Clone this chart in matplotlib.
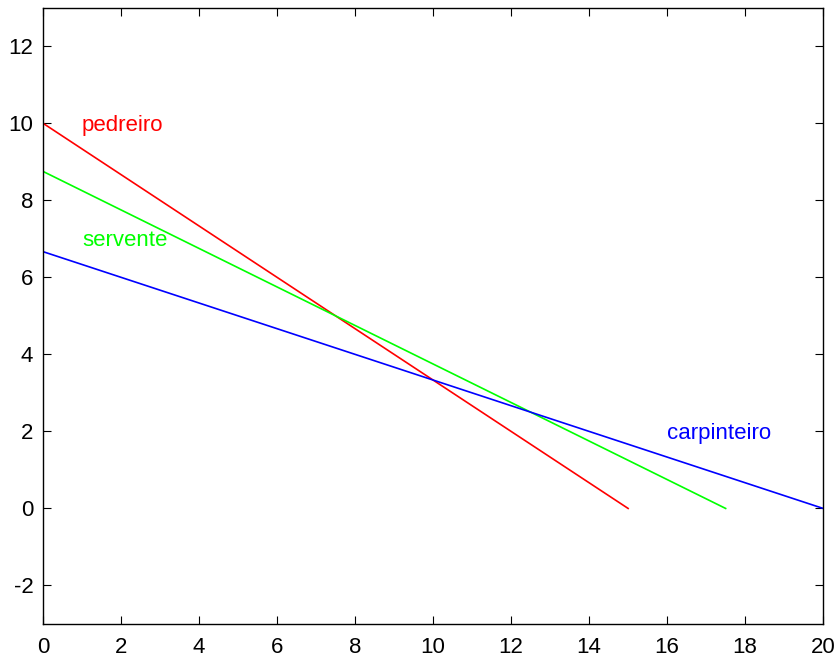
import matplotlib
matplotlib.use("Agg")
import matplotlib.pyplot as plt

plt.rcParams['font.family'] = ['Liberation Sans', 'DejaVu Sans']
plt.rcParams['axes.unicode_minus'] = False

# intercepts of each line (x=0 value and y=0 value)
names = ["pedreiro", "servente", "carpinteiro"]
colors = ["#ff0000", "#00ff00", "#0000ff"]
x_end = [15, 17.5, 20]
y_start = [10, 8.75, 20 / 3]
label_pos = [(1, 9.95), (1, 6.95), (16, 1.95)]

fig = plt.figure(figsize=(8.38, 6.62), dpi=100)
ax = fig.add_axes([0.0513, 0.0574, 0.931, 0.931])

for name, c, xe, ys, (lx, ly) in zip(names, colors, x_end, y_start, label_pos):
    ax.plot([0, xe], [ys, 0], color=c, linewidth=1.2)
    ax.text(lx, ly, name, color=c, fontsize=16, va="center", ha="left")

ax.set_xlim(0, 20)
ax.set_ylim(-3, 13)
ax.set_xticks(range(0, 21, 2))
ax.set_yticks(range(-2, 13, 2))
ax.tick_params(direction="in", top=True, right=True, labelsize=16, length=6)
ax.tick_params(axis="x", pad=9)
ax.tick_params(axis="y", pad=7)
for s in ax.spines.values():
    s.set_linewidth(1.0)

fig.savefig("out.png", dpi=100)
